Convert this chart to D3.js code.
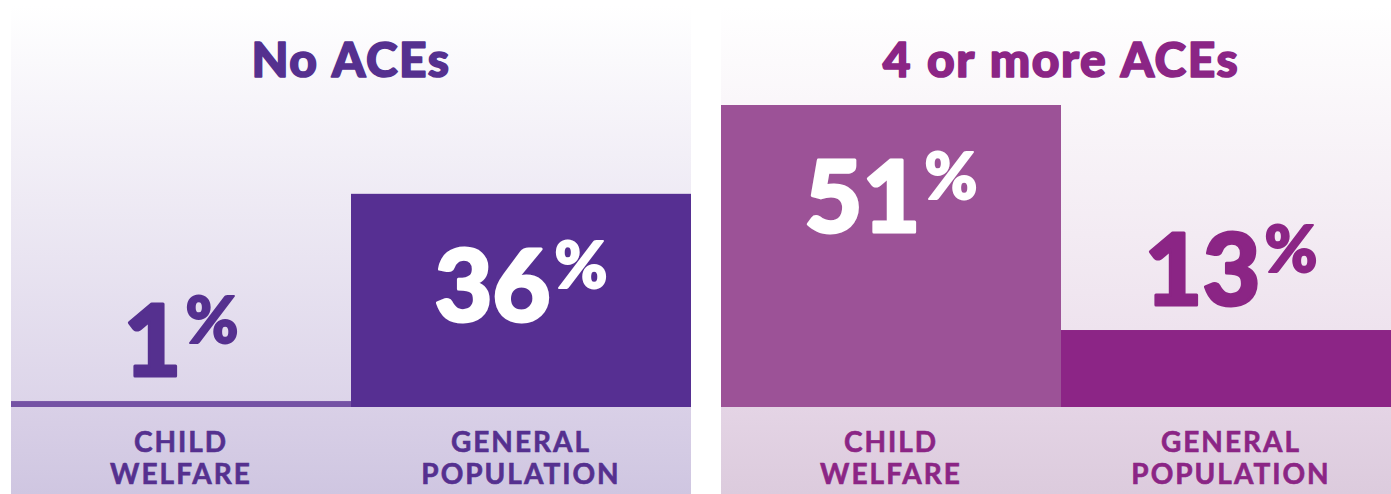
<!doctype html>
<html lang="en">
<head>
  <style>
    body { margin: 0; background: #fff; }
    svg { display: block; }
    .title { font-family: Lato, "Open Sans", sans-serif; font-weight: 900; font-size: 48px; stroke-width: 1.6px; stroke-linejoin: round; letter-spacing: 1.5px; word-spacing: 2px; }
    .value { font-family: Lato, "Open Sans", sans-serif; font-weight: 900; stroke-width: 3px; stroke-linejoin: round; }
    .cat { font-family: Lato, "Open Sans", sans-serif; font-weight: 700; font-size: 28px; letter-spacing: 2px; stroke-width: 0.6px; }
  </style>
  <script src="https://d3js.org/d3.v7.min.js"></script>
</head>
<body>
  <script>
    const panels = ["No ACEs", "4 or more ACEs"];
    const categories = ["CHILD WELFARE", "GENERAL POPULATION"];
    const noAces = [1, 36];
    const fourOrMore = [51, 13];

    const W = 1391, H = 494;
    const panelTop = 5, base = 407;

    const themes = [
      { text: "#55308f", bars: ["#7452a4", "#562f92"], bgTop: "#ffffff", bgBot: "#dcd4e9", bandTop: "#d9d0e7", bandBot: "#cfc6e1" },
      { text: "#8b2585", bars: ["#9c5297", "#8c2586"], bgTop: "#ffffff", bgBot: "#eadcea", bandTop: "#e4d4e5", bandBot: "#dccbdd" }
    ];
    const series = [noAces, fourOrMore];

    const svg = d3.select("body").append("svg")
      .attr("width", W)
      .attr("height", H);

    const px = d3.scaleBand()
      .domain(panels)
      .range([11, 1401])
      .paddingInner(30 / 710);

    const x = d3.scaleBand()
      .domain(categories)
      .range([0, px.bandwidth()]);

    const y = d3.scaleLinear()
      .domain([0, d3.max(series.flat())])
      .range([base, 105]);

    const defs = svg.append("defs");

    panels.forEach((name, i) => {
      const t = themes[i];
      const g = svg.append("g").attr("transform", `translate(${px(name)},0)`);

      // background gradients
      const bg = defs.append("linearGradient").attr("id", "bg" + i)
        .attr("x1", 0).attr("y1", 0).attr("x2", 0).attr("y2", 1);
      bg.append("stop").attr("offset", "0%").attr("stop-color", t.bgTop);
      bg.append("stop").attr("offset", "100%").attr("stop-color", t.bgBot);
      const band = defs.append("linearGradient").attr("id", "band" + i)
        .attr("x1", 0).attr("y1", 0).attr("x2", 0).attr("y2", 1);
      band.append("stop").attr("offset", "0%").attr("stop-color", t.bandTop);
      band.append("stop").attr("offset", "100%").attr("stop-color", t.bandBot);

      g.append("rect")
        .attr("x", 0).attr("y", panelTop)
        .attr("width", px.bandwidth()).attr("height", base - panelTop)
        .attr("fill", `url(#bg${i})`);
      g.append("rect")
        .attr("x", 0).attr("y", base)
        .attr("width", px.bandwidth()).attr("height", H - base)
        .attr("fill", `url(#band${i})`);

      g.append("text")
        .attr("class", "title")
        .attr("x", px.bandwidth() / 2)
        .attr("y", 77)
        .attr("text-anchor", "middle")
        .attr("fill", t.text)
        .attr("stroke", t.text)
        .text(name);

      const data = series[i].map((v, j) => ({ cat: categories[j], v, j }));

      g.selectAll(".bar").data(data).join("rect")
        .attr("class", "bar")
        .attr("x", d => x(d.cat))
        .attr("y", d => y(d.v))
        .attr("width", x.bandwidth())
        .attr("height", d => base - y(d.v))
        .attr("fill", d => t.bars[d.j]);

      const inside = d => base - y(d.v) > 150;
      const lbl = g.selectAll(".value").data(data).join("text")
        .attr("class", "value")
        .attr("x", d => x(d.cat) + x.bandwidth() / 2)
        .attr("y", d => inside(d) ? y(d.v) + 127 : y(d.v) - 25)
        .attr("text-anchor", "middle")
        .attr("fill", d => inside(d) ? "#fff" : t.text)
        .attr("stroke", d => inside(d) ? "#fff" : t.text);
      lbl.append("tspan").attr("font-size", 100).text(d => d.v);
      lbl.append("tspan").attr("font-size", 64).attr("dx", 4).attr("dy", -33).attr("stroke-width", 2).text("%");

      const cat = g.selectAll(".cat").data(data).join("text")
        .attr("class", "cat")
        .attr("x", d => x(d.cat) + x.bandwidth() / 2)
        .attr("y", 452)
        .attr("text-anchor", "middle")
        .attr("fill", t.text)
        .attr("stroke", t.text);
      cat.selectAll("tspan").data(d => d.cat.split(" ").map(w => ({ w, x: x(d.cat) + x.bandwidth() / 2 })))
        .join("tspan")
        .attr("x", d => d.x)
        .attr("dy", (d, k) => k ? 32 : 0)
        .text(d => d.w);
    });
  </script>
</body>
</html>
